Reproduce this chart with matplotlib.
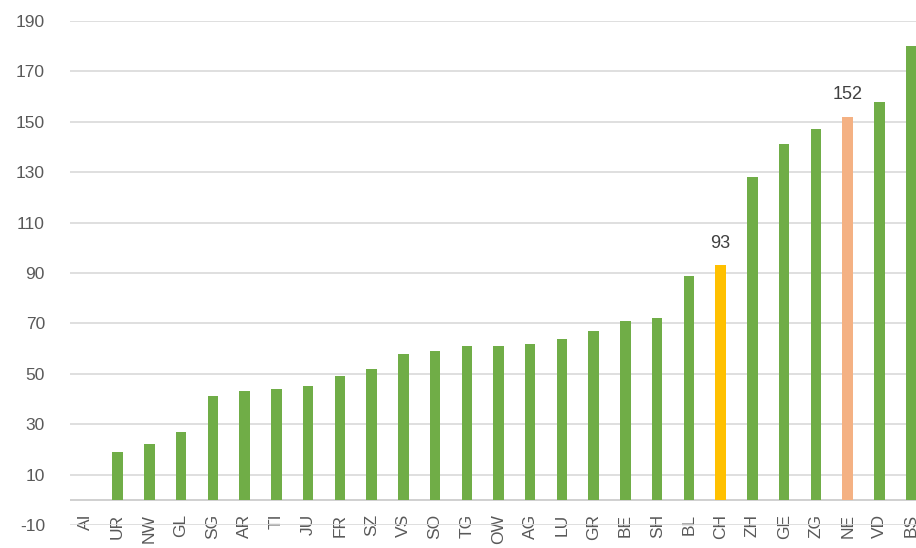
import numpy as np
import matplotlib
matplotlib.use("Agg")
import matplotlib.pyplot as plt

plt.rcParams['font.family'] = ['Liberation Sans', 'DejaVu Sans']
plt.rcParams['axes.unicode_minus'] = False

cantons = ['AI', 'UR', 'NW', 'GL', 'SG', 'AR', 'TI', 'JU', 'FR', 'SZ', 'VS', 'SO', 'TG', 'OW',
           'AG', 'LU', 'GR', 'BE', 'SH', 'BL', 'CH', 'ZH', 'GE', 'ZG', 'NE', 'VD', 'BS']
values = [0, 19, 22, 27, 41, 43, 44, 45, 49, 52, 58, 59, 61, 61,
          62, 64, 67, 71, 72, 89, 93, 128, 141, 147, 152, 158, 180]
highlight = {'CH': '#ffc000', 'NE': '#f4b183'}
labelled = ['CH', 'NE']
yticks = list(range(-10, 191, 20))

green = '#70ad47'
colors = [highlight.get(c, green) for c in cantons]

fig = plt.figure(figsize=(9.16, 5.48), dpi=100)
# plot area runs past the right edge, as in the cropped original
ax = fig.add_axes([70 / 916, 23 / 548, 857 / 916, 504 / 548])

x = np.arange(len(cantons))
bars = ax.bar(x, values, width=0.33, color=colors, zorder=3)

ax.set_xlim(-0.5, len(cantons) - 0.5)
ax.set_ylim(-10, 190)
ax.set_yticks(yticks)
ax.yaxis.grid(True, color='#d9d9d9', linewidth=1.2, zorder=0)
ax.axhline(0, color='#d0d0d0', linewidth=1.4, zorder=2)

for s in ax.spines.values():
    s.set_visible(False)

ax.set_xticks(x)
ax.set_xticklabels(cantons, rotation=90)
ax.tick_params(axis='x', length=0, pad=-8, labelsize=12.5, labelcolor='#595959')
ax.tick_params(axis='y', length=0, pad=18, labelsize=12.5, labelcolor='#595959')

for i, c in enumerate(cantons):
    if c in labelled:
        ax.annotate(str(values[i]), (x[i], values[i]), xytext=(0, 10),
                    textcoords='offset points', ha='center', va='bottom',
                    fontsize=13, color='#404040')

fig.savefig('out.png', dpi=100)
